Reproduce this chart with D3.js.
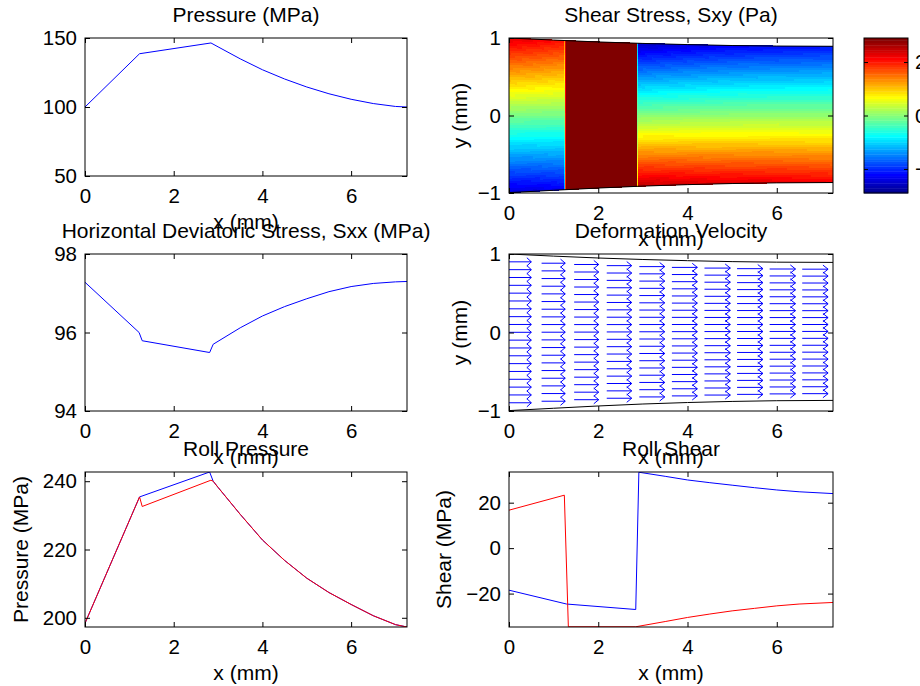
<!DOCTYPE html>
<html>
<head>
<meta charset="utf-8">
<script src="https://cdn.jsdelivr.net/npm/d3@7"></script>
<style>
  html, body { margin: 0; padding: 0; background: #fff; }
  svg { display: block; font-family: "Liberation Sans", Arial, Helvetica, sans-serif; }
</style>
</head>
<body>
<div id="chart"></div>
<script>
// Datos (x en mm)
const xTicks = [0, 2, 4, 6];

// Pressure (MPa)
const pressX = [0, 1.23, 2.84, 3.0, 3.5, 4, 4.5, 5, 5.5, 6, 6.5, 7, 7.26];
const pressY = [100, 138.6, 146.4, 143.6, 134.9, 127.0, 120.3, 114.5, 109.6, 105.6, 102.5, 100.4, 100];

// Horizontal Deviatoric Stress, Sxx (MPa)
const sxxX = [0, 1.22, 1.29, 2.81, 2.89, 3.5, 4, 4.5, 5, 5.5, 6, 6.5, 7, 7.26];
const sxxY = [97.28, 96.0, 95.79, 95.49, 95.7, 96.12, 96.42, 96.66, 96.86, 97.04, 97.17, 97.25, 97.29, 97.3];

// Contorno de la chapa
const edgeX = [0, 1, 2, 3, 4, 5, 6, 7.26];
const edgeTop = [1.0, 0.973, 0.949, 0.930, 0.915, 0.903, 0.896, 0.893];
const edgeBot = [-0.995, -0.965, -0.936, -0.911, -0.892, -0.878, -0.869, -0.865];

// Shear Stress, Sxy (Pa): valor en la parte superior e inferior de cada sección
const sxyX   = [0, 0.6, 1.24, 1.26, 1.28, 1.95, 2.87, 2.89, 2.91, 3.5, 4.5, 5.5, 6.5, 7.26];
const sxyTop = [2.3, 2.2, 2.05, 0.6, 4, 4, 4, 0.3, -2.55, -2.45, -2.3, -2.2, -2.15, -2.1];
const sxyBot = [-2.45, -2.4, -2.3, -0.3, 4, 4, 4, -0.6, 2.5, 2.45, 2.35, 2.3, 2.25, 2.2];
const colorLim = [-2.9, 2.9];
const colorTicks = [-2, 0, 2];

// Deformation Velocity
const quivX = [0, 0.73, 1.46, 2.19, 2.92, 3.65, 4.38, 5.11, 5.84, 6.57];
const quivU = [0.5, 0.53, 0.55, 0.56, 0.57, 0.57, 0.58, 0.58, 0.58, 0.58];
const quivEta = [-0.9, -0.8, -0.7, -0.6, -0.5, -0.4, -0.3, -0.2, -0.1, 0, 0.1, 0.2, 0.3, 0.4, 0.5, 0.6, 0.7, 0.8, 0.9];

// Roll Pressure (MPa)
const rollPX1 = [0, 1.23, 2.81, 2.89, 3.0, 3.5, 4, 4.5, 5, 5.5, 6, 6.5, 7, 7.26];
const rollPY1 = [198.4, 235.4, 242.7, 240.0, 238.2, 230.3, 222.8, 216.8, 211.6, 207.4, 203.9, 200.6, 198.0, 197.3];
const rollPX2 = [0, 1.23, 1.29, 2.84, 2.89, 3.0, 3.5, 4, 4.5, 5, 5.5, 6, 6.5, 7, 7.26];
const rollPY2 = [198.4, 235.4, 232.6, 240.3, 240.0, 238.2, 230.3, 222.8, 216.8, 211.6, 207.4, 203.9, 200.6, 198.0, 197.3];

// Roll Shear (MPa)
const rollSX1 = [0, 1.29, 2.84, 2.91, 3.5, 4, 4.5, 5, 5.5, 6, 6.5, 7.26];
const rollSY1 = [-18.5, -24.6, -27, 33.4, 31.6, 30.0, 28.8, 27.7, 26.6, 25.6, 24.8, 24.0];
const rollSX2 = [0, 1.24, 1.33, 2.84, 3.5, 4, 4.5, 5, 5.5, 6, 6.5, 7.26];
const rollSY2 = [16.7, 23.3, -34.6, -34.6, -32.3, -30.5, -29, -27.6, -26.5, -25.4, -24.6, -23.9];

const W = 920, H = 686;
const FS_TICK = 20.5, FS_LABEL = 21;
const BLUE = '#0000ff', RED = '#ff0000';

let svg = d3.select('#chart').append('svg')
    .attr('width', W).attr('height', H);

svg.append('rect').attr('width', W).attr('height', H).attr('fill', '#fff');

let clipId = 0;

//Ejes estilo MATLAB (caja con ticks hacia dentro)
function makeAxes(o) {
    let g = svg.append('g').attr('transform', 'translate(' + o.left + ',' + o.top + ')');
    let x = d3.scaleLinear().domain(o.xDomain).range([0, o.w]);
    let y = d3.scaleLinear().domain(o.yDomain).range([o.h, 0]);

    let id = 'clip' + (clipId++);
    g.append('clipPath').attr('id', id)
        .append('rect').attr('width', o.w).attr('height', o.h);
    let plot = g.append('g').attr('clip-path', 'url(#' + id + ')');

    let fmt = d => d3.format('')(d);

    let axB = g.append('g').attr('transform', 'translate(0,' + o.h + ')')
        .call(d3.axisBottom(x).tickValues(xTicks).tickSize(-5).tickSizeOuter(0).tickPadding(12).tickFormat(fmt));
    let axT = g.append('g')
        .call(d3.axisTop(x).tickValues(xTicks).tickSize(-5).tickSizeOuter(0).tickFormat(''));
    let axL = g.append('g')
        .call(d3.axisLeft(y).tickValues(o.yTicks).tickSize(-5).tickSizeOuter(0).tickPadding(8).tickFormat(fmt));
    let axR = g.append('g').attr('transform', 'translate(' + o.w + ',0)')
        .call(d3.axisRight(y).tickValues(o.yTicks).tickSize(-5).tickSizeOuter(0).tickFormat(''));

    [axB, axT, axL, axR].forEach(a => {
        a.select('.domain').remove();
        a.selectAll('.tick line').attr('stroke', '#000');
        a.selectAll('text').attr('fill', '#000').attr('font-size', FS_TICK)
            .attr('font-family', '"Liberation Sans", Arial, sans-serif');
    });

    g.append('rect').attr('class', 'frame')
        .attr('width', o.w).attr('height', o.h)
        .attr('fill', 'none').attr('stroke', '#000').attr('stroke-width', 1);

    g.append('text')
        .attr('x', o.w / 2).attr('y', -16.5)
        .attr('text-anchor', 'middle').attr('font-size', FS_LABEL)
        .text(o.title);

    g.append('text')
        .attr('x', o.w / 2).attr('y', o.h + 52.5)
        .attr('text-anchor', 'middle').attr('font-size', FS_LABEL)
        .text('x (mm)');

    if (o.ylabel) {
        g.append('text')
            .attr('transform', 'translate(' + (-o.ylabelOff) + ',' + (o.h / 2) + ') rotate(-90)')
            .attr('text-anchor', 'middle').attr('font-size', FS_LABEL)
            .text(o.ylabel);
    }
    return { g: g, plot: plot, x: x, y: y, frame: g.select('.frame') };
}

function drawLine(ax, xs, ys, color) {
    let line = d3.line().x(d => ax.x(d[0])).y(d => ax.y(d[1]));
    ax.plot.append('path')
        .datum(d3.zip(xs, ys))
        .attr('d', line)
        .attr('fill', 'none')
        .attr('stroke', color)
        .attr('stroke-width', 1);
}

//Mapa de color jet de MATLAB (64 colores)
function jetMap(m) {
    let n = Math.ceil(m / 4);
    let u = [];
    for (let i = 1; i <= n; i++) u.push(i / n);
    for (let i = 1; i < n; i++) u.push(1);
    for (let i = n; i >= 1; i--) u.push(i / n);
    let g0 = Math.ceil(n / 2) - (m % 4 === 1 ? 1 : 0);
    let cmap = d3.range(m).map(() => [0, 0, 0]);
    u.forEach((val, k) => {
        let gi = g0 + k + 1, ri = gi + n, bi = gi - n;
        if (ri >= 1 && ri <= m) cmap[ri - 1][0] = val;
        if (gi >= 1 && gi <= m) cmap[gi - 1][1] = val;
        if (bi >= 1 && bi <= m) cmap[bi - 1][2] = val;
    });
    return cmap.map(c => d3.rgb(c[0] * 255, c[1] * 255, c[2] * 255).formatHex());
}
const JET = jetMap(64);
function colorOf(v) {
    let idx = Math.floor((v - colorLim[0]) / (colorLim[1] - colorLim[0]) * 64);
    idx = Math.max(0, Math.min(63, idx));
    return JET[idx];
}

let topAt = d3.scaleLinear().domain(edgeX).range(edgeTop);
let botAt = d3.scaleLinear().domain(edgeX).range(edgeBot);

// Panel 1: Pressure
let ax1 = makeAxes({ left: 85, top: 38, w: 322, h: 138, xDomain: [0, 7.26], yDomain: [50, 150],
    yTicks: [50, 100, 150], title: 'Pressure (MPa)' });
drawLine(ax1, pressX, pressY, BLUE);

// Panel 2: Shear stress
let ax2 = makeAxes({ left: 509, top: 38, w: 324, h: 155, xDomain: [0, 7.26], yDomain: [-1, 1],
    yTicks: [-1, 0, 1], title: 'Shear Stress, Sxy (Pa)', ylabel: 'y (mm)', ylabelOff: 42.5 });

(function drawField() {
    let topV = d3.scaleLinear().domain(sxyX).range(sxyTop);
    let botV = d3.scaleLinear().domain(sxyX).range(sxyBot);
    let cols = [];
    for (let i = 0; i < sxyX.length - 1; i++) {
        let x0 = sxyX[i], x1 = sxyX[i + 1];
        let n = Math.max(1, Math.ceil((x1 - x0) / 0.05));
        for (let k = 0; k < n; k++) cols.push([x0 + (x1 - x0) * k / n, x0 + (x1 - x0) * (k + 1) / n]);
    }
    let nRows = 64;
    let cells = [];
    cols.forEach(c => {
        let xm = (c[0] + c[1]) / 2;
        let vt = topV(xm), vb = botV(xm);
        for (let r = 0; r < nRows; r++) {
            let e0 = r / nRows, e1 = (r + 1) / nRows, em = (e0 + e1) / 2;
            cells.push({ x0: c[0], x1: c[1], e0: e0, e1: e1, v: vb + (vt - vb) * em });
        }
    });
    let yAt = (xv, e) => botAt(xv) + (topAt(xv) - botAt(xv)) * e;
    ax2.plot.append('g')
        .attr('shape-rendering', 'crispEdges')
        .selectAll('path')
        .data(cells)
        .enter().append('path')
        .attr('d', d => 'M' + ax2.x(d.x0) + ',' + ax2.y(yAt(d.x0, d.e0)) +
            'L' + ax2.x(d.x1) + ',' + ax2.y(yAt(d.x1, d.e0)) +
            'L' + ax2.x(d.x1) + ',' + ax2.y(yAt(d.x1, d.e1)) +
            'L' + ax2.x(d.x0) + ',' + ax2.y(yAt(d.x0, d.e1)) + 'Z')
        .attr('fill', d => colorOf(d.v))
        .attr('stroke', d => colorOf(d.v))
        .attr('stroke-width', 1);
    drawLine(ax2, edgeX, edgeTop, '#000');
    drawLine(ax2, edgeX, edgeBot, '#000');
    ax2.g.node().appendChild(ax2.frame.node());
})();

// Colorbar
(function drawColorbar() {
    let cb = svg.append('g').attr('transform', 'translate(864,38)');
    let cw = 44, ch = 155;
    let y = d3.scaleLinear().domain(colorLim).range([ch, 0]);
    cb.selectAll('rect.band')
        .data(JET)
        .enter().append('rect')
        .attr('class', 'band')
        .attr('x', 0).attr('width', cw)
        .attr('y', (d, i) => ch - (i + 1) * ch / 64)
        .attr('height', ch / 64 + 0.4)
        .attr('fill', d => d);
    let axR = cb.append('g').attr('transform', 'translate(' + cw + ',0)')
        .call(d3.axisRight(y).tickValues(colorTicks).tickSize(-4).tickSizeOuter(0).tickPadding(7));
    let axL = cb.append('g')
        .call(d3.axisLeft(y).tickValues(colorTicks).tickSize(-4).tickSizeOuter(0).tickFormat(''));
    [axR, axL].forEach(a => {
        a.select('.domain').remove();
        a.selectAll('.tick line').attr('stroke', '#000');
        a.selectAll('text').attr('fill', '#000').attr('font-size', FS_TICK)
            .attr('font-family', '"Liberation Sans", Arial, sans-serif');
    });
    cb.append('rect').attr('width', cw).attr('height', ch)
        .attr('fill', 'none').attr('stroke', '#000');
})();

// Panel 3: Sxx
let ax3 = makeAxes({ left: 85, top: 254, w: 322, h: 157, xDomain: [0, 7.26], yDomain: [94, 98],
    yTicks: [94, 96, 98], title: 'Horizontal Deviatoric Stress, Sxx (MPa)' });
drawLine(ax3, sxxX, sxxY, BLUE);

// Panel 4: Deformation velocity
let ax4 = makeAxes({ left: 509, top: 254, w: 324, h: 157, xDomain: [0, 7.26], yDomain: [-1, 1],
    yTicks: [-1, 0, 1], title: 'Deformation Velocity', ylabel: 'y (mm)', ylabelOff: 42 });
(function drawQuiver() {
    let arrows = [];
    quivX.forEach((xv, i) => {
        let mid = (topAt(xv) + botAt(xv)) / 2, half = (topAt(xv) - botAt(xv)) / 2;
        quivEta.forEach(e => arrows.push({ x: xv, y: mid + e * half, u: quivU[i] }));
    });
    ax4.plot.append('g').selectAll('path')
        .data(arrows)
        .enter().append('path')
        .attr('d', d => {
            let tx = d.x + d.u, hb = 0.2 * d.u, hs = 0.052;
            return 'M' + ax4.x(d.x) + ',' + ax4.y(d.y) + 'L' + ax4.x(tx) + ',' + ax4.y(d.y) +
                'M' + ax4.x(tx - hb) + ',' + ax4.y(d.y + hs) + 'L' + ax4.x(tx) + ',' + ax4.y(d.y) +
                'L' + ax4.x(tx - hb) + ',' + ax4.y(d.y - hs);
        })
        .attr('fill', 'none')
        .attr('stroke', BLUE)
        .attr('stroke-width', 1);
    drawLine(ax4, edgeX, edgeTop, '#000');
    drawLine(ax4, edgeX, edgeBot, '#000');
})();

// Panel 5: Roll pressure
let ax5 = makeAxes({ left: 85, top: 472, w: 322, h: 155, xDomain: [0, 7.26], yDomain: [197.3, 242.7],
    yTicks: [200, 220, 240], title: 'Roll Pressure', ylabel: 'Pressure (MPa)', ylabelOff: 57 });
drawLine(ax5, rollPX1, rollPY1, BLUE);
drawLine(ax5, rollPX2, rollPY2, RED);

// Panel 6: Roll shear
let ax6 = makeAxes({ left: 509, top: 472, w: 324, h: 155, xDomain: [0, 7.26], yDomain: [-34.7, 33.5],
    yTicks: [-20, 0, 20], title: 'Roll Shear', ylabel: 'Shear (MPa)', ylabelOff: 58 });
drawLine(ax6, rollSX1, rollSY1, BLUE);
drawLine(ax6, rollSX2, rollSY2, RED);
</script>
</body>
</html>
